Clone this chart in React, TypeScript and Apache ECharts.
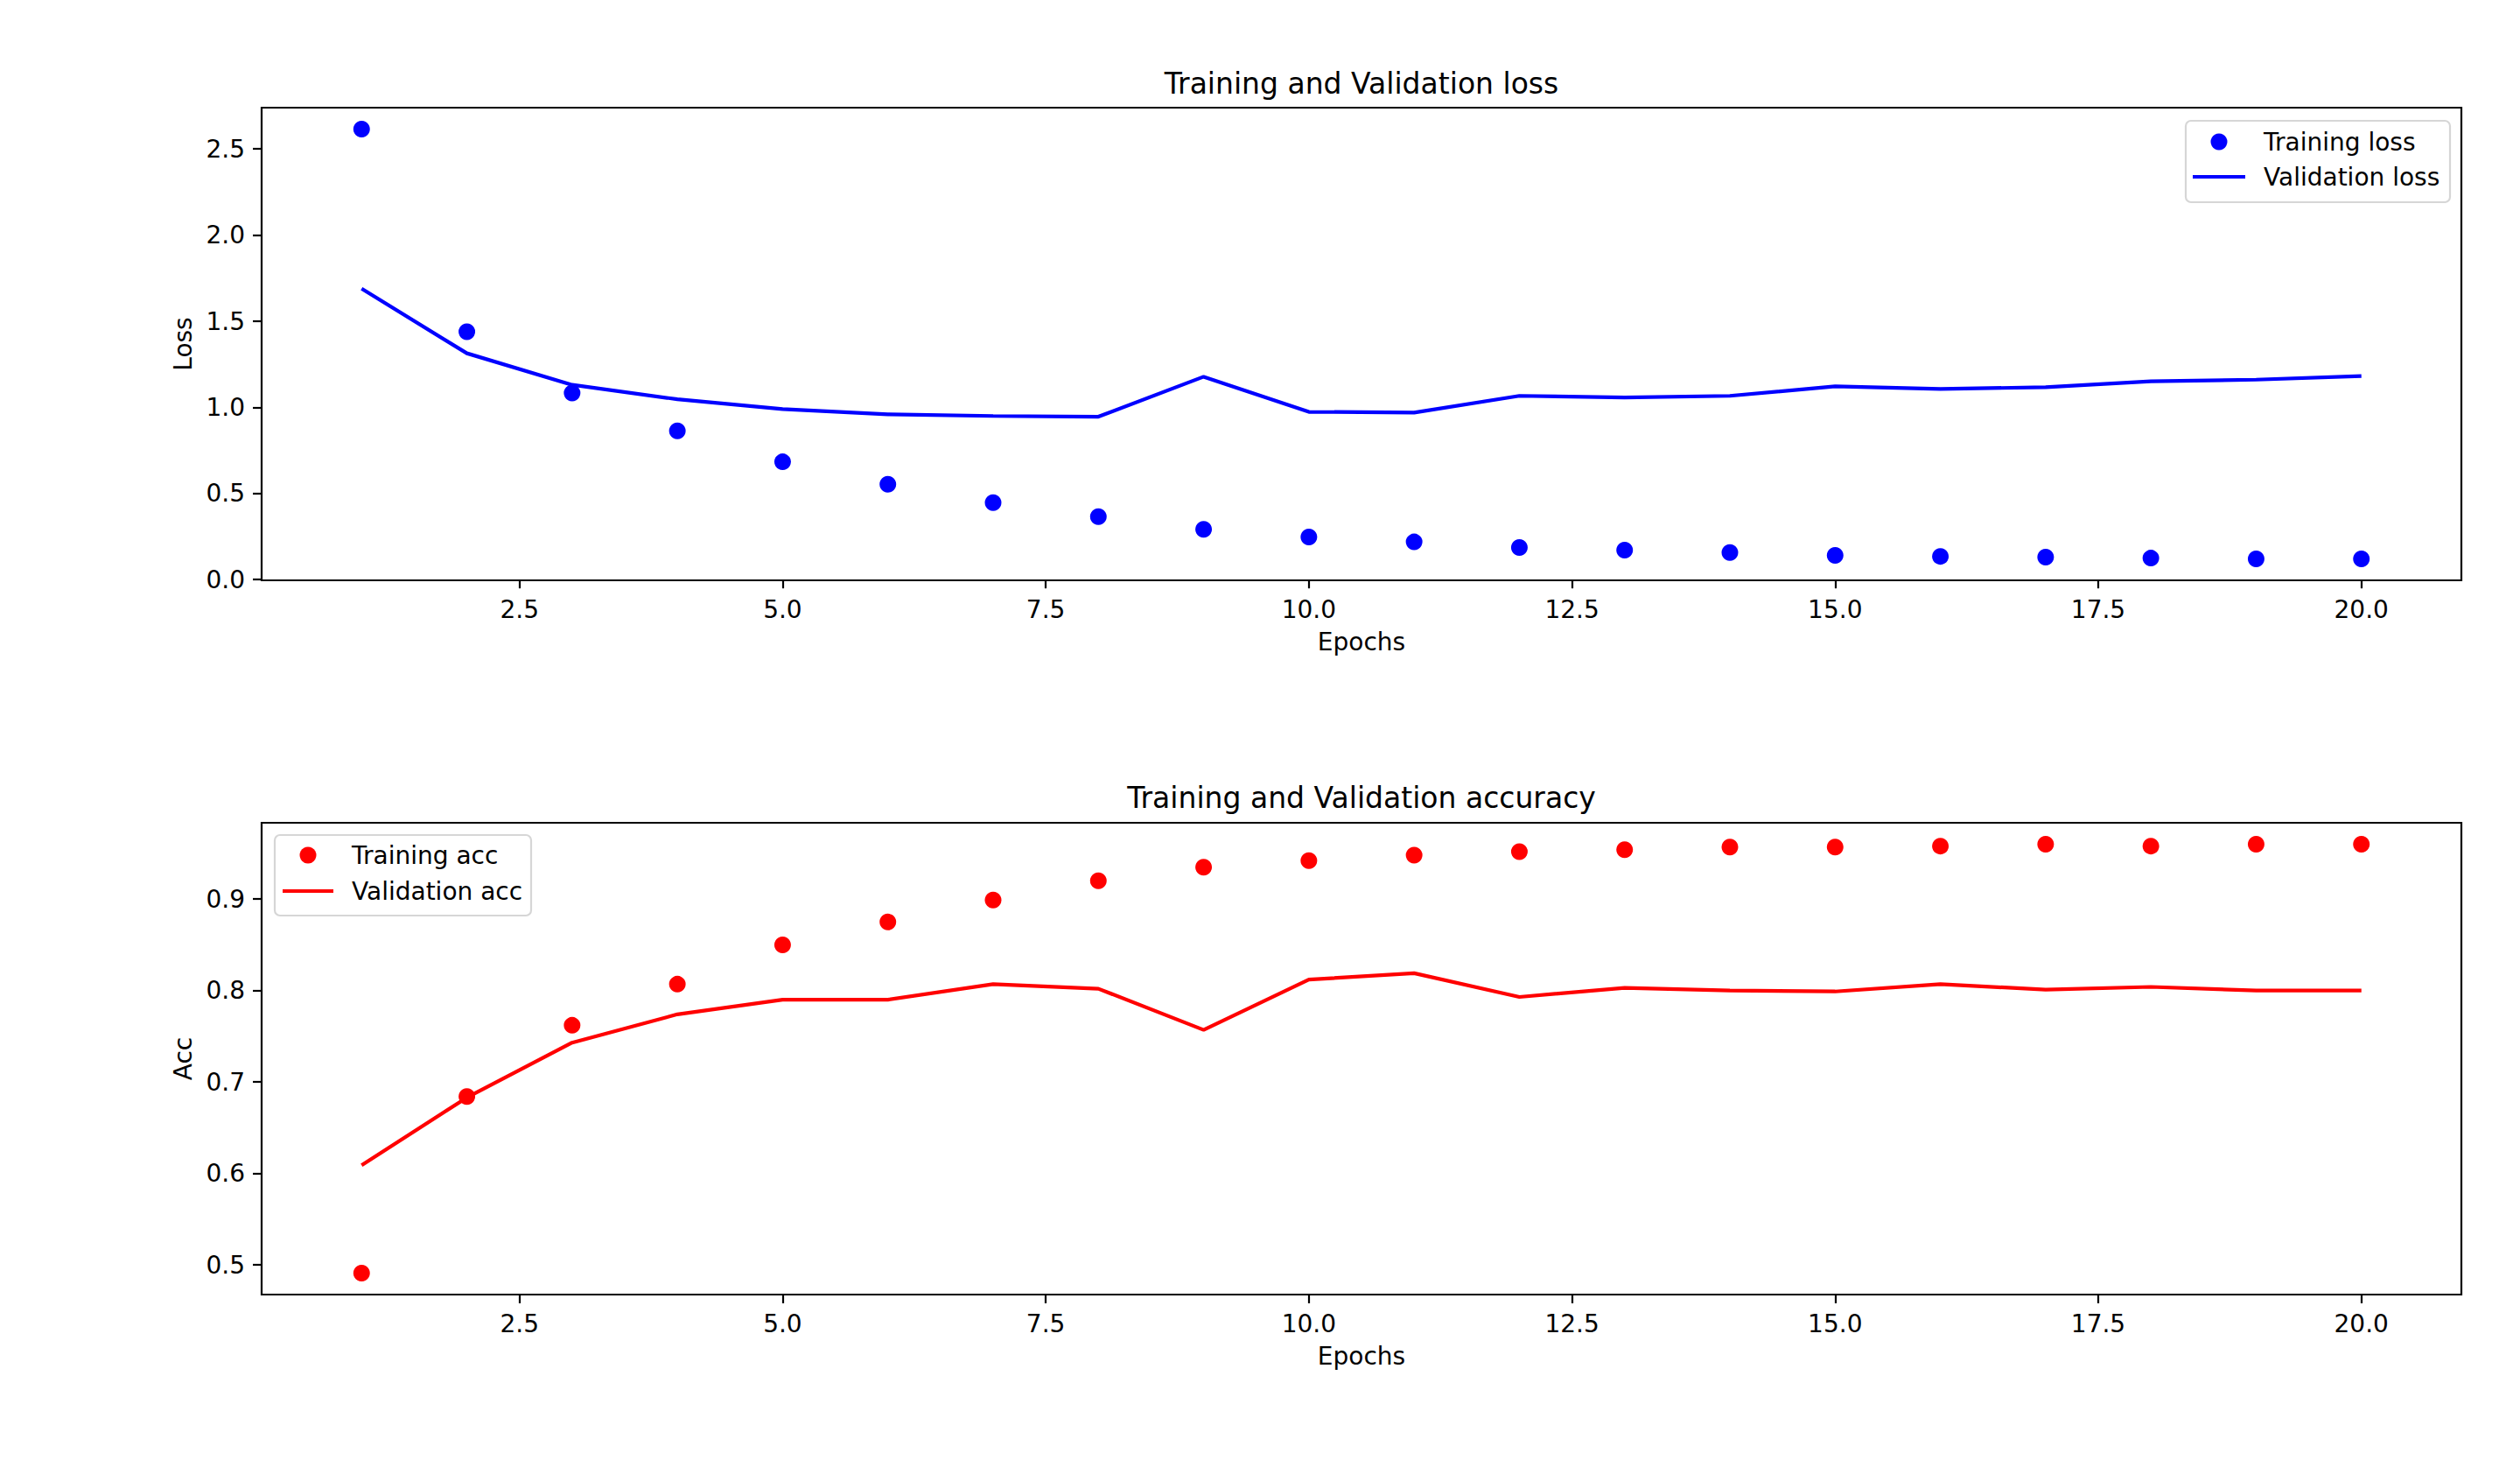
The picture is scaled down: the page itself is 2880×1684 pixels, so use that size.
import React, { useEffect, useRef } from "react";
import * as echarts from "echarts";

const epochs = [1, 2, 3, 4, 5, 6, 7, 8, 9, 10, 11, 12, 13, 14, 15, 16, 17, 18, 19, 20];
const trainingLoss = [2.615, 1.439, 1.083, 0.864, 0.684, 0.554, 0.447, 0.366, 0.292, 0.248, 0.219, 0.187, 0.171, 0.157, 0.141, 0.135, 0.131, 0.125, 0.121, 0.121];
const validationLoss = [1.689, 1.314, 1.131, 1.047, 0.99, 0.96, 0.95, 0.946, 1.178, 0.974, 0.97, 1.067, 1.057, 1.067, 1.122, 1.107, 1.117, 1.151, 1.161, 1.182];
const trainingAcc = [0.491, 0.684, 0.762, 0.807, 0.85, 0.875, 0.899, 0.92, 0.935, 0.942, 0.948, 0.952, 0.954, 0.957, 0.957, 0.958, 0.96, 0.958, 0.96, 0.96];
const validationAcc = [0.609, 0.683, 0.743, 0.774, 0.79, 0.79, 0.807, 0.802, 0.757, 0.812, 0.819, 0.793, 0.803, 0.8, 0.799, 0.807, 0.801, 0.804, 0.8, 0.8];
const xTicks = [2.5, 5, 7.5, 10, 12.5, 15, 17.5, 20];
const lossTicks = [0, 0.5, 1, 1.5, 2, 2.5];
const accTicks = [0.5, 0.6, 0.7, 0.8, 0.9];

const FONT = "DejaVu Sans";
const BLUE = "#0000ff";
const RED = "#ff0000";

const pairs = (ys: number[]) => epochs.map((e, i) => [e, ys[i]]);

function xAxisCfg(gridIndex: number) {
  return {
    type: "value",
    gridIndex,
    min: 0.05,
    max: 20.95,
    name: "Epochs",
    nameLocation: "middle",
    nameGap: 56,
    nameTextStyle: { fontFamily: FONT, fontSize: 28, color: "#000" },
    axisLine: { show: false },
    splitLine: { show: false },
    axisTick: { show: true, length: 10, customValues: xTicks, lineStyle: { color: "#000", width: 2.2 } },
    axisLabel: {
      show: true,
      margin: 19,
      customValues: xTicks,
      fontFamily: FONT,
      fontSize: 28,
      color: "#000",
      formatter: (v: number) => v.toFixed(1),
    },
  };
}

function yAxisCfg(gridIndex: number, name: string, min: number, max: number, ticks: number[]) {
  return {
    type: "value",
    gridIndex,
    min,
    max,
    name,
    nameLocation: "middle",
    nameGap: 76,
    nameTextStyle: { fontFamily: FONT, fontSize: 28, color: "#000" },
    axisLine: { show: false },
    splitLine: { show: false },
    axisTick: { show: true, length: 10, customValues: ticks, lineStyle: { color: "#000", width: 2.2 } },
    axisLabel: {
      show: true,
      margin: 19,
      customValues: ticks,
      fontFamily: FONT,
      fontSize: 28,
      color: "#000",
      formatter: (v: number) => v.toFixed(1),
    },
  };
}

function legendGroup(
  box: { x: number; y: number; w: number; h: number },
  markerX: number,
  lineX1: number,
  lineX2: number,
  textX: number,
  row1: number,
  row2: number,
  color: string,
  label1: string,
  label2: string
) {
  return [
    {
      type: "rect",
      shape: { x: box.x, y: box.y, width: box.w, height: box.h, r: 6 },
      style: { fill: "rgba(255,255,255,0.8)", stroke: "#d6d6d6", lineWidth: 2.2 },
      z: 100,
    },
    { type: "circle", shape: { cx: markerX, cy: row1, r: 9.5 }, style: { fill: color }, z: 101 },
    {
      type: "line",
      shape: { x1: lineX1, y1: row2, x2: lineX2, y2: row2 },
      style: { stroke: color, lineWidth: 4.2 },
      z: 101,
    },
    {
      type: "text",
      x: textX,
      y: row1,
      style: { text: label1, fontFamily: FONT, fontSize: 28, fill: "#000", align: "left", verticalAlign: "middle", textAlign: "left", textVerticalAlign: "middle" },
      z: 101,
    },
    {
      type: "text",
      x: textX,
      y: row2,
      style: { text: label2, fontFamily: FONT, fontSize: 28, fill: "#000", align: "left", verticalAlign: "middle", textAlign: "left", textVerticalAlign: "middle" },
      z: 101,
    },
  ];
}

export default function App() {
  const ref = useRef<HTMLDivElement>(null);

  useEffect(() => {
    if (!ref.current) return;
    const chart = echarts.init(ref.current, undefined, { renderer: "svg" });
    const titleStyle = (text: string, y: number) => ({
      type: "text",
      x: 1556,
      y,
      style: { text, fontFamily: FONT, fontSize: 33, fill: "#000", align: "center", verticalAlign: "middle", textAlign: "center", textVerticalAlign: "middle" },
    });
    chart.setOption({
      animation: false,
      backgroundColor: "#ffffff",
      grid: [
        { left: 299, right: 67, top: 123, height: 540, show: true, borderColor: "#000", borderWidth: 2.2, backgroundColor: "transparent" },
        { left: 299, right: 67, top: 940, height: 539, show: true, borderColor: "#000", borderWidth: 2.2, backgroundColor: "transparent" },
      ],
      xAxis: [xAxisCfg(0), xAxisCfg(1)],
      yAxis: [
        yAxisCfg(0, "Loss", -0.004, 2.74, lossTicks),
        yAxisCfg(1, "Acc", 0.4675, 0.9835, accTicks),
      ],
      series: [
        { name: "Training loss", type: "scatter", xAxisIndex: 0, yAxisIndex: 0, data: pairs(trainingLoss), symbol: "circle", symbolSize: 19, itemStyle: { color: BLUE, opacity: 1 } },
        { name: "Validation loss", type: "line", xAxisIndex: 0, yAxisIndex: 0, data: pairs(validationLoss), showSymbol: false, symbol: "none", lineStyle: { color: BLUE, width: 4.2 }, itemStyle: { color: BLUE } },
        { name: "Training acc", type: "scatter", xAxisIndex: 1, yAxisIndex: 1, data: pairs(trainingAcc), symbol: "circle", symbolSize: 19, itemStyle: { color: RED, opacity: 1 } },
        { name: "Validation acc", type: "line", xAxisIndex: 1, yAxisIndex: 1, data: pairs(validationAcc), showSymbol: false, symbol: "none", lineStyle: { color: RED, width: 4.2 }, itemStyle: { color: RED } },
      ],
      graphic: [
        titleStyle("Training and Validation loss", 95),
        titleStyle("Training and Validation accuracy", 911),
        ...legendGroup({ x: 2498, y: 138, w: 302, h: 93 }, 2536, 2506, 2566, 2587, 162, 202, BLUE, "Training loss", "Validation loss"),
        ...legendGroup({ x: 314, y: 954, w: 293, h: 92 }, 352, 323, 381, 402, 977, 1018, RED, "Training acc", "Validation acc"),
      ],
    });
    return () => chart.dispose();
  }, []);

  return (
    <div
      ref={ref}
      style={{ position: "fixed", left: 0, top: 0, width: 2880, height: 1684, background: "#fff" }}
    />
  );
}
